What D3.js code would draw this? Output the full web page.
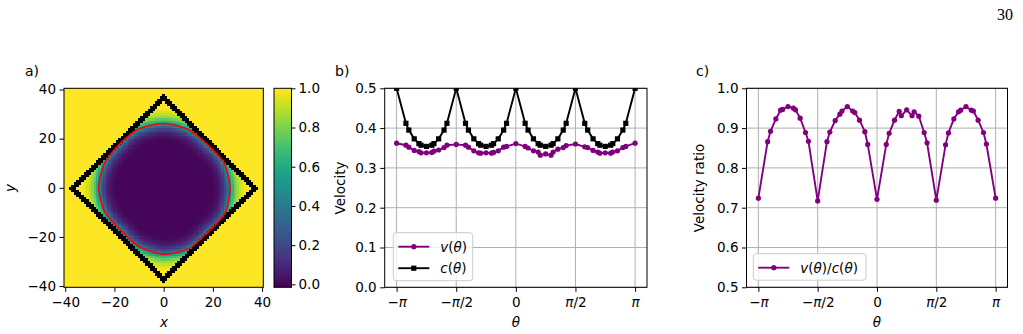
<!DOCTYPE html>
<html>
<head>
<meta charset="utf-8">
<script src="https://cdn.jsdelivr.net/npm/d3@7"></script>
<style>
body { margin: 0; background: #fff; }
svg text { font-family: "DejaVu Sans", sans-serif; fill: #000; }
</style>
</head>
<body>
<div id="chart"></div>
<script>
// ---- panel a: order parameter field ----
// radius of the red 0.5 contour, read at 16 angles (deg, counter-clockwise from +x)
const contourAngles = [0, 22.5, 45, 67.5, 90, 112.5, 135, 157.5, 180, 202.5, 225, 247.5, 270, 292.5, 315, 337.5];
const contourRadius = [27.0, 26.5, 25.0, 25.8, 26.2, 26.0, 25.3, 26.0, 26.4, 25.8, 24.5, 26.0, 27.0, 26.8, 25.5, 27.0];
// field value against signed distance from that contour (outward positive)
const profileDist = [-7, -6, -5, -4, -3, -2, -1, 0, 1, 2, 3, 4, 5, 6, 7];
const profileValue = [0.0, 0.01, 0.03, 0.06, 0.11, 0.19, 0.32, 0.5, 0.64, 0.76, 0.85, 0.91, 0.95, 0.98, 1.0];
// black lattice boundary: cells with |i|+|j| in this range
const boundaryLevels = [36, 38];
const gridHalf = 40;
const xTicksA = [-40, -20, 0, 20, 40];
const yTicksA = [-40, -20, 0, 20, 40];
const cbarDomain = [-0.015, 1.0];
const cbarTicks = [0, 0.2, 0.4, 0.6, 0.8, 1.0];

// ---- panels b and c ----
const theta = [-180, -165.96, -161.57, -153.43, -146.31, -143.13, -135, -126.87, -123.69, -116.57, -108.43, -104.04,
  -90, -75.96, -71.57, -63.43, -56.31, -53.13, -45, -36.87, -33.69, -26.57, -18.43, -14.04,
  0, 14.04, 18.43, 26.57, 33.69, 36.87, 45, 53.13, 56.31, 63.43, 71.57, 75.96,
  90, 104.04, 108.43, 116.57, 123.69, 126.87, 135, 143.13, 146.31, 153.43, 161.57, 165.96, 180];
const cTheta = [0.500, 0.412, 0.395, 0.373, 0.361, 0.357, 0.354, 0.357, 0.361, 0.373, 0.395, 0.412,
  0.500, 0.412, 0.395, 0.373, 0.361, 0.357, 0.354, 0.357, 0.361, 0.373, 0.395, 0.412,
  0.500, 0.412, 0.395, 0.373, 0.361, 0.357, 0.354, 0.357, 0.361, 0.373, 0.395, 0.412,
  0.500, 0.412, 0.395, 0.373, 0.361, 0.357, 0.354, 0.357, 0.361, 0.373, 0.395, 0.412, 0.500];
const vTheta = [0.362, 0.357, 0.352, 0.344, 0.341, 0.338, 0.338, 0.339, 0.342, 0.345, 0.351, 0.357,
  0.359, 0.357, 0.352, 0.343, 0.338, 0.337, 0.338, 0.337, 0.339, 0.343, 0.352, 0.354,
  0.361, 0.354, 0.350, 0.343, 0.340, 0.332, 0.335, 0.332, 0.340, 0.347, 0.351, 0.356,
  0.360, 0.353, 0.351, 0.344, 0.340, 0.337, 0.338, 0.337, 0.340, 0.343, 0.351, 0.354, 0.362];
const ratio = [0.724, 0.866, 0.892, 0.923, 0.945, 0.947, 0.954, 0.950, 0.946, 0.925, 0.889, 0.867,
  0.717, 0.866, 0.890, 0.919, 0.935, 0.943, 0.954, 0.943, 0.939, 0.920, 0.891, 0.859,
  0.721, 0.859, 0.887, 0.920, 0.942, 0.931, 0.946, 0.931, 0.941, 0.930, 0.889, 0.863,
  0.719, 0.858, 0.888, 0.923, 0.941, 0.945, 0.954, 0.945, 0.943, 0.920, 0.889, 0.860, 0.724];
const thetaTicks = [-180, -90, 0, 90, 180];
const thetaTickLabels = ["−π", "−π/2", "0", "π/2", "π"];
const velTicks = [0, 0.1, 0.2, 0.3, 0.4, 0.5];
const ratioTicks = [0.5, 0.6, 0.7, 0.8, 0.9, 1.0];

const W = 1023, H = 334;
const FONT = 13.5;
const TOP = 88.3, BOTTOM = 287.3;

const svg = d3.select("#chart").append("svg").attr("width", W).attr("height", H);
const defs = svg.append("defs");

// page number
svg.append("text").attr("x", 1013).attr("y", 20).attr("text-anchor", "end")
  .style("font-family", "'Liberation Serif', serif").attr("font-size", 16).text("30");

function styleAxis(g) {
  g.attr("font-size", null).attr("font-family", null);
  g.select(".domain").remove();
  g.selectAll(".tick line").attr("stroke", "#000").attr("stroke-width", 1);
  g.selectAll(".tick text").attr("font-size", FONT);
}

function piLabels(g) {
  g.selectAll(".tick text").each(function(d) {
    const t = d3.select(this);
    const s = thetaTickLabels[thetaTicks.indexOf(d)];
    t.text(null);
    s.split(/(π)/).filter(p => p).forEach(p => {
      t.append("tspan").text(p).attr("font-style", p === "π" ? "italic" : null);
    });
  });
}

function mathText(sel, parts) {
  // parts: [text, italic?]
  parts.forEach(([s, it]) => sel.append("tspan").text(s).attr("font-style", it ? "italic" : null));
}

function spines(x0, x1) {
  svg.append("rect").attr("x", x0).attr("y", TOP).attr("width", x1 - x0).attr("height", BOTTOM - TOP)
    .attr("fill", "none").attr("stroke", "#000").attr("stroke-width", 1);
}

// ================= panel a =================
const xA = d3.scaleLinear([-40.5, 40.5], [64, 263.3]);
const yA = d3.scaleLinear([-40.5, 40.5], [BOTTOM, TOP]);
const color = d3.scaleSequential(d3.interpolateViridis).domain(cbarDomain);

const nAng = contourAngles.length;
function radiusAt(a) {
  const step = 360 / nAng;
  const k = Math.floor(a / step) % nAng;
  const f = (a - k * step) / step;
  return contourRadius[k] * (1 - f) + contourRadius[(k + 1) % nAng] * f;
}
const profile = d3.scaleLinear(profileDist, profileValue).clamp(true);
function fieldValue(i, j) {
  const s = Math.abs(i) + Math.abs(j);
  if (s >= boundaryLevels[0] && s <= boundaryLevels[1]) return null;
  if (s > boundaryLevels[1]) return 1;
  let a = Math.atan2(j, i) * 180 / Math.PI;
  if (a < 0) a += 360;
  return profile(Math.hypot(i, j) - radiusAt(a));
}
const cells = [];
for (let j = -gridHalf; j <= gridHalf; j++)
  for (let i = -gridHalf; i <= gridHalf; i++)
    cells.push({i, j, v: fieldValue(i, j)});

svg.append("g").attr("shape-rendering", "crispEdges").selectAll("rect").data(cells).join("rect")
  .attr("x", d => xA(d.i - 0.5))
  .attr("y", d => yA(d.j + 0.5))
  .attr("width", xA(0.5) - xA(-0.5) + 0.6)
  .attr("height", yA(-0.5) - yA(0.5) + 0.6)
  .attr("fill", d => d.v === null ? "#000" : color(d.v));

// red 0.5 contour
const contourPts = contourAngles.map((a, k) => {
  const r = contourRadius[k], t = a * Math.PI / 180;
  return [r * Math.cos(t), r * Math.sin(t)];
});
svg.append("path").datum(contourPts)
  .attr("d", d3.line().x(d => xA(d[0])).y(d => yA(d[1])).curve(d3.curveCardinalClosed.tension(0.3)))
  .attr("fill", "none").attr("stroke", "#ff0000").attr("stroke-width", 1.6);

spines(64, 263.3);
svg.append("g").attr("transform", `translate(0,${BOTTOM})`)
  .call(d3.axisBottom(xA).tickValues(xTicksA).tickSize(4.5).tickPadding(6).tickFormat(d3.format("d")))
  .call(styleAxis);
svg.append("g").attr("transform", "translate(64,0)")
  .call(d3.axisLeft(yA).tickValues(yTicksA).tickSize(4.5).tickPadding(3.5).tickFormat(d3.format("d")))
  .call(styleAxis);
mathText(svg.append("text").attr("x", 164).attr("y", 327).attr("text-anchor", "middle").attr("font-size", FONT), [["x", true]]);
mathText(svg.append("text").attr("transform", "translate(15,188) rotate(-90)").attr("text-anchor", "middle").attr("font-size", FONT), [["y", true]]);
svg.append("text").attr("x", 25).attr("y", 76).attr("font-size", 14).text("a)");

// colorbar
const cbY = d3.scaleLinear(cbarDomain, [BOTTOM, TOP]);
const grad = defs.append("linearGradient").attr("id", "viridis").attr("x1", 0).attr("y1", 1).attr("x2", 0).attr("y2", 0);
d3.range(0, 1.0001, 0.05).forEach(t => grad.append("stop").attr("offset", t).attr("stop-color", d3.interpolateViridis(t)));
svg.append("rect").attr("x", 274).attr("y", TOP).attr("width", 17.5).attr("height", BOTTOM - TOP)
  .attr("fill", "url(#viridis)").attr("stroke", "#000").attr("stroke-width", 1);
svg.append("g").attr("transform", "translate(291.5,0)")
  .call(d3.axisRight(cbY).tickValues(cbarTicks).tickSize(4).tickPadding(3).tickFormat(d3.format(".1f")))
  .call(styleAxis);

// ================= panels b and c =================
function linePanel(x0, x1, yDomain, yTicks) {
  const x = d3.scaleLinear([-198, 198], [x0, x1]);
  const y = d3.scaleLinear(yDomain, [BOTTOM, TOP]);
  const id = "clip" + Math.round(x0);
  defs.append("clipPath").attr("id", id).append("rect")
    .attr("x", x0).attr("y", TOP).attr("width", x1 - x0).attr("height", BOTTOM - TOP);
  const grid = svg.append("g").attr("stroke", "#b0b0b0").attr("stroke-width", 1);
  grid.selectAll(".gx").data(thetaTicks).join("line")
    .attr("x1", d => x(d)).attr("x2", d => x(d)).attr("y1", TOP).attr("y2", BOTTOM);
  grid.selectAll(".gy").data(yTicks).join("line")
    .attr("x1", x0).attr("x2", x1).attr("y1", d => y(d)).attr("y2", d => y(d));
  const plot = svg.append("g").attr("clip-path", `url(#${id})`);
  return {x, y, plot};
}

function drawSeries(p, values, stroke, marker) {
  const pts = theta.map((t, k) => [t, values[k]]);
  p.plot.append("path").datum(pts)
    .attr("d", d3.line().x(d => p.x(d[0])).y(d => p.y(d[1])))
    .attr("fill", "none").attr("stroke", stroke).attr("stroke-width", 1.9);
  if (marker === "circle") {
    p.plot.append("g").selectAll("circle").data(pts).join("circle")
      .attr("cx", d => p.x(d[0])).attr("cy", d => p.y(d[1])).attr("r", 2.6).attr("fill", stroke);
  } else {
    p.plot.append("g").selectAll("rect").data(pts).join("rect")
      .attr("x", d => p.x(d[0]) - 2.6).attr("y", d => p.y(d[1]) - 2.6)
      .attr("width", 5.2).attr("height", 5.2).attr("fill", stroke);
  }
}

function finishPanel(p, x0, x1, yTicks, yLabel, labelX, tag, tagX) {
  spines(x0, x1);
  svg.append("g").attr("transform", `translate(0,${BOTTOM})`)
    .call(d3.axisBottom(p.x).tickValues(thetaTicks).tickSize(4.5).tickPadding(6))
    .call(styleAxis).call(piLabels);
  svg.append("g").attr("transform", `translate(${x0},0)`)
    .call(d3.axisLeft(p.y).tickValues(yTicks).tickSize(4.5).tickPadding(3.5).tickFormat(d3.format(".1f")))
    .call(styleAxis);
  mathText(svg.append("text").attr("x", (x0 + x1) / 2).attr("y", 327).attr("text-anchor", "middle").attr("font-size", FONT), [["θ", true]]);
  svg.append("text").attr("transform", `translate(${labelX},188) rotate(-90)`).attr("text-anchor", "middle")
    .attr("font-size", FONT).text(yLabel);
  svg.append("text").attr("x", tagX).attr("y", 76).attr("font-size", 14).text(tag);
}

function legend(x, y, w, entries) {
  const h = entries.length * 21.5 + 5;
  svg.append("rect").attr("x", x).attr("y", y).attr("width", w).attr("height", h).attr("rx", 3)
    .attr("fill", "#fff").attr("fill-opacity", 0.8).attr("stroke", "#cccccc").attr("stroke-width", 1);
  entries.forEach((e, k) => {
    const cy = y + 14 + k * 21.5;
    svg.append("line").attr("x1", x + 5).attr("x2", x + 36).attr("y1", cy).attr("y2", cy)
      .attr("stroke", e.color).attr("stroke-width", 1.9);
    if (e.marker === "circle") {
      svg.append("circle").attr("cx", x + 20.5).attr("cy", cy).attr("r", 2.6).attr("fill", e.color);
    } else {
      svg.append("rect").attr("x", x + 17.9).attr("y", cy - 2.6).attr("width", 5.2).attr("height", 5.2).attr("fill", e.color);
    }
    mathText(svg.append("text").attr("x", x + 47).attr("y", cy + 5).attr("font-size", FONT), e.label);
  });
}

// panel b
const pB = linePanel(384.7, 647, [0, 0.5], velTicks);
drawSeries(pB, vTheta, "purple", "circle");
drawSeries(pB, cTheta, "#000", "square");
finishPanel(pB, 384.7, 647, velTicks, "Velocity", 345, "b)", 335);
legend(393.3, 232.7, 79.4, [
  {color: "purple", marker: "circle", label: [["v", true], ["(", false], ["θ", true], [")", false]]},
  {color: "#000", marker: "square", label: [["c", true], ["(", false], ["θ", true], [")", false]]}
]);

// panel c
const pC = linePanel(746.5, 1007.5, [0.5, 1.0], ratioTicks);
drawSeries(pC, ratio, "purple", "circle");
finishPanel(pC, 746.5, 1007.5, ratioTicks, "Velocity ratio", 704, "c)", 696);
legend(753.3, 253.7, 112.7, [
  {color: "purple", marker: "circle", label: [["v", true], ["(", false], ["θ", true], [")/", false], ["c", true], ["(", false], ["θ", true], [")", false]]}
]);
</script>
</body>
</html>
